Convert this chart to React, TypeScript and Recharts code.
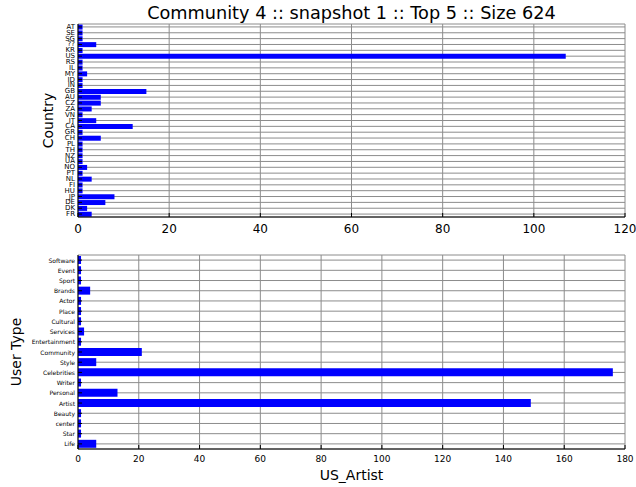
import React from 'react';
import { BarChart, Bar, XAxis, YAxis, CartesianGrid } from 'recharts';

// Country breakdown (top panel), listed top to bottom
const countries = ['AT', 'SE', 'SG', '??', 'KR', 'US', 'RS', 'IL', 'MY', 'ID', 'IN', 'GB', 'AU', 'CZ', 'ZA', 'VN', 'IT', 'CA', 'GR', 'CH', 'PL', 'TH', 'NZ', 'UA', 'NO', 'PT', 'NL', 'FI', 'HU', 'JP', 'DE', 'DK', 'FR'];
const countryCounts = [1, 1, 1, 4, 1, 107, 1, 1, 2, 1, 1, 15, 5, 5, 3, 1, 4, 12, 1, 5, 1, 1, 1, 1, 2, 1, 3, 1, 1, 8, 6, 2, 3];
const countryTicks = [0, 20, 40, 60, 80, 100, 120];

// User type breakdown (bottom panel), listed top to bottom
const userTypes = ['Software', 'Event', 'Sport', 'Brands', 'Actor', 'Place', 'Cultural', 'Services', 'Entertainment', 'Community', 'Style', 'Celebrities', 'Writer', 'Personal', 'Artist', 'Beauty', 'center', 'Star', 'Life'];
const userTypeCounts = [1, 1, 1, 4, 1, 1, 1, 2, 1, 21, 6, 176, 1, 13, 149, 1, 1, 1, 6];
const userTypeTicks = [0, 20, 40, 60, 80, 100, 120, 140, 160, 180];

const TITLE = 'Community 4 :: snapshot 1 :: Top 5 :: Size 624';
const FONT = '"DejaVu Sans", sans-serif';
const BLUE = '#0000ff';
const GRID = '#8c8c8c';
const TICK_LEN = 4;

/* eslint-disable @typescript-eslint/no-explicit-any */
function bottomTick(fontSize: number, offset: number) {
  return function BottomTick(props: any) {
    const { x, y, payload } = props;
    return (
      <g>
        <line x1={x} x2={x} y1={y} y2={y - TICK_LEN} stroke="#000" />
        <text x={x} y={y + offset} textAnchor="middle" fontSize={fontSize} fill="#000" fontFamily={FONT}>
          {payload.value}
        </text>
      </g>
    );
  };
}

function leftTick(fontSize: number) {
  return function LeftTick(props: any) {
    const { x, y, payload } = props;
    return (
      <g>
        <line x1={x} x2={x + TICK_LEN} y1={y} y2={y} stroke="#000" />
        <text x={x - 3} y={y} textAnchor="end" dominantBaseline="central" fontSize={fontSize} fill="#000" fontFamily={FONT}>
          {payload.value}
        </text>
      </g>
    );
  };
}

function TopTick(props: any) {
  const { x, y } = props;
  return <line x1={x} x2={x} y1={y} y2={y + TICK_LEN} stroke="#000" />;
}

function RightTick(props: any) {
  const { x, y } = props;
  return <line x1={x} x2={x - TICK_LEN} y1={y} y2={y} stroke="#000" />;
}

interface PanelProps {
  data: { name: string; value: number }[];
  ticks: number[];
  width: number;
  height: number;
  margin: { top: number; right: number; bottom: number; left: number };
  xFont: number;
  xOffset: number;
  yFont: number;
}

function Panel({ data, ticks, width, height, margin, xFont, xOffset, yFont }: PanelProps) {
  const domain: [number, number] = [0, ticks[ticks.length - 1]];
  return (
    <BarChart
      width={width}
      height={height}
      data={data}
      layout="vertical"
      margin={margin}
      barCategoryGap="10%"
    >
      <CartesianGrid horizontal={false} stroke={GRID} strokeWidth={1} />
      <CartesianGrid vertical={false} stroke={GRID} strokeWidth={1} />
      <XAxis
        type="number"
        domain={domain}
        ticks={ticks}
        interval={0}
        height={20}
        tickSize={0}
        tickMargin={0}
        tickLine={false}
        axisLine={{ stroke: '#000' }}
        tick={bottomTick(xFont, xOffset)}
      />
      <XAxis
        xAxisId="top"
        orientation="top"
        type="number"
        domain={domain}
        ticks={ticks}
        interval={0}
        height={0}
        tickSize={0}
        tickMargin={0}
        tickLine={false}
        axisLine={{ stroke: '#000' }}
        tick={TopTick}
      />
      <YAxis
        type="category"
        dataKey="name"
        width={30}
        interval={0}
        tickSize={0}
        tickMargin={0}
        tickLine={false}
        axisLine={{ stroke: '#000' }}
        tick={leftTick(yFont)}
      />
      <YAxis
        yAxisId="right"
        orientation="right"
        type="category"
        dataKey="name"
        width={0}
        interval={0}
        tickSize={0}
        tickMargin={0}
        tickLine={false}
        axisLine={{ stroke: '#000' }}
        tick={RightTick}
      />
      <Bar dataKey="value" fill={BLUE} isAnimationActive={false} />
    </BarChart>
  );
}

export default function App() {
  const countryData = countries.map((name, i) => ({ name, value: countryCounts[i] }));
  const userTypeData = userTypes.map((name, i) => ({ name, value: userTypeCounts[i] }));

  return (
    <div
      style={{
        position: 'absolute',
        left: 0,
        top: 0,
        width: 636,
        height: 487,
        background: '#fff',
        fontFamily: FONT,
      }}
    >
      <div style={{ position: 'absolute', left: 0, top: 0 }}>
        <Panel
          data={countryData}
          ticks={countryTicks}
          width={636}
          height={240}
          margin={{ top: 24, right: 11, bottom: 3, left: 48 }}
          xFont={12}
          xOffset={16}
          yFont={7}
        />
      </div>
      <div style={{ position: 'absolute', left: 0, top: 240 }}>
        <Panel
          data={userTypeData}
          ticks={userTypeTicks}
          width={636}
          height={247}
          margin={{ top: 15, right: 11, bottom: 18, left: 48 }}
          xFont={9}
          xOffset={13}
          yFont={6}
        />
      </div>
      <svg width={636} height={487} style={{ position: 'absolute', left: 0, top: 0, pointerEvents: 'none' }}>
        <text x={351.5} y={19} textAnchor="middle" fontSize={17.7} fontFamily={FONT} fill="#000">
          {TITLE}
        </text>
        <text
          x={0}
          y={0}
          transform="translate(53, 120.5) rotate(-90)"
          textAnchor="middle"
          fontSize={14}
          fontFamily={FONT}
          fill="#000"
        >
          Country
        </text>
        <text
          x={0}
          y={0}
          transform="translate(21, 352) rotate(-90)"
          textAnchor="middle"
          fontSize={14}
          fontFamily={FONT}
          fill="#000"
        >
          User Type
        </text>
        <text x={351.5} y={480} textAnchor="middle" fontSize={14} fontFamily={FONT} fill="#000">
          US_Artist
        </text>
      </svg>
    </div>
  );
}
